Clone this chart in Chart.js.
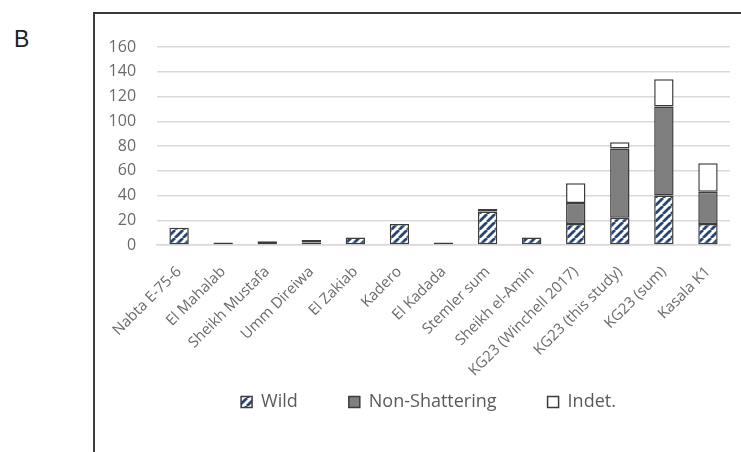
<!DOCTYPE html>
<html>
<head>
<meta charset="utf-8">
<script src="https://cdn.jsdelivr.net/npm/chart.js@4.4.0/dist/chart.umd.min.js"></script>
<style>
  html, body { margin: 0; padding: 0; background: #fff; }
  body { width: 741px; height: 452px; position: relative; overflow: hidden; }
  #panel {
    position: absolute; left: 93px; top: 12px; width: 660px; height: 460px;
    border-top: 2px solid #3a3a3a; border-left: 2px solid #3a3a3a;
    box-sizing: border-box;
  }
  #tag {
    position: absolute; left: 14px; top: 26px;
    font-family: "Liberation Sans", Arial, sans-serif; font-size: 23px; color: #222;
  }
  #wrap { position: absolute; left: 95px; top: 14px; width: 698px; height: 438px; }
</style>
</head>
<body>
<div id="tag">B</div>
<div id="panel"></div>
<div id="wrap"><canvas id="c" width="698" height="438"></canvas></div>
<script>
// Sites and seed counts per category
const categories = ['Nabta E-75-6', 'El Mahalab', 'Sheikh Mustafa', 'Umm Direiwa', 'El Zakiab', 'Kadero',
  'El Kadada', 'Stemler sum', 'Sheikh el-Amin', 'KG23 (Winchell 2017)', 'KG23 (this study)', 'KG23 (sum)', 'Kasala K1'];
const wild          = [14, null, 3, 2, 6, 17, null, 27, 6, 17, 22, 40, 17];
const nonShattering = [null, 2, null, 2, null, null, 2, 2, null, 17, 56, 72, 26];
const indet         = [null, null, null, null, null, null, null, null, null, 16, 5, 22, 23];
const yTicks = [0, 20, 40, 60, 80, 100, 120, 140, 160];

// diagonal hatch for the wild fraction
function hatch() {
  const s = 8;
  const p = document.createElement('canvas');
  p.width = s; p.height = s;
  const g = p.getContext('2d');
  g.fillStyle = '#ffffff';
  g.fillRect(0, 0, s, s);
  g.strokeStyle = '#284676';
  g.lineWidth = 2.8;
  g.beginPath();
  for (let k = -1; k <= 1; k++) {
    g.moveTo(k * s, s);
    g.lineTo(k * s + s, 0);
  }
  g.stroke();
  return g.createPattern(p, 'repeat');
}

// let tick labels run past their axis boxes (slanted names below, values to the left)
const freeLabels = {
  id: 'freeLabels',
  afterLayout(chart) {
    chart.scales.x.bottom = chart.height;
    chart.scales.y.left = 0;
  }
};

const ctx = document.getElementById('c').getContext('2d');
const border = '#3c3c3c';
const common = { borderColor: border, borderWidth: 1.5, borderSkipped: false, barPercentage: 0.44, categoryPercentage: 1 };

new Chart(ctx, {
  type: 'bar',
  data: {
    labels: categories,
    datasets: [
      Object.assign({ label: 'Wild', data: wild, backgroundColor: hatch() }, common),
      Object.assign({ label: 'Non-Shattering', data: nonShattering, backgroundColor: '#7f7f7f' }, common),
      Object.assign({ label: 'Indet.', data: indet, backgroundColor: '#ffffff' }, common)
    ]
  },
  plugins: [freeLabels],
  options: {
    responsive: false,
    animation: false,
    layout: { padding: { top: 33, right: 63, left: 32, bottom: 31 } },
    plugins: {
      tooltip: { enabled: false },
      legend: {
        position: 'bottom',
        labels: {
          boxWidth: 11, boxHeight: 11, padding: 51,
          color: '#5a5a5a',
          font: { family: 'Open Sans', size: 18 }
        }
      }
    },
    scales: {
      x: {
        stacked: true,
        afterFit: (s) => { s.height = 97; },
        grid: { display: false, drawTicks: false },
        border: { display: true, color: '#d9d9d9', width: 1.5 },
        ticks: {
          color: '#6a6a6a', font: { family: 'Open Sans', size: 15 },
          minRotation: 45, maxRotation: 45, padding: 18, autoSkip: false
        }
      },
      y: {
        stacked: true,
        min: 0, max: 160,
        afterFit: (s) => { s.width = 30; },
        afterBuildTicks: (s) => { s.ticks = yTicks.map(v => ({ value: v })); },
        grid: { color: '#d9d9d9', lineWidth: 1.5, drawTicks: false },
        border: { display: false },
        ticks: { color: '#6a6a6a', font: { family: 'Open Sans', size: 16 }, padding: 21 }
      }
    }
  }
});
</script>
</body>
</html>
